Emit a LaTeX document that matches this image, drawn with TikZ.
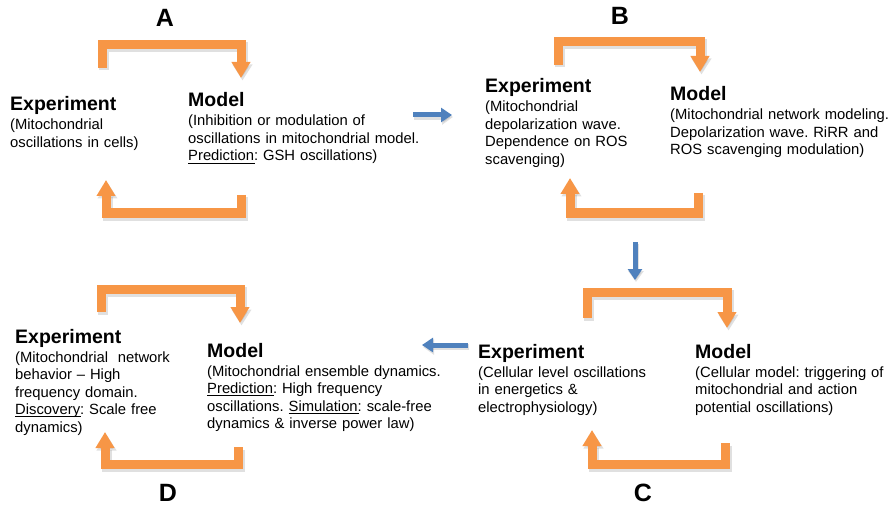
\documentclass[tikz,border=0pt]{standalone}
\usepackage{fontspec}
\setmainfont{Liberation Sans}
\usetikzlibrary{arrows.meta}
\frenchspacing

\definecolor{loopor}{HTML}{F79646}
\definecolor{flowbl}{HTML}{4F81BD}

\newcommand\headfont{\fontsize{19.5}{22}\bfseries}
\newcommand\bodyfont{\fontsize{14.8}{17.5}\selectfont\hyphenpenalty=10000\exhyphenpenalty=10000}
\newcommand\head[1]{{\headfont #1}\\[1.5pt]}
% underline set close to the baseline
\newcommand\ulword[1]{\setbox0\hbox{#1}\leavevmode\rlap{\rule[-2.4pt]{\dimexpr\wd0+1pt\relax}{0.8pt}}\box0}

\tikzset{
  loopline/.style={draw=loopor, line width=9pt, line join=miter, line cap=butt,
    -{Triangle[width=18pt,length=16pt]}},
  loopshade/.style={draw=black!55, opacity=0.22, line width=10pt, line join=miter,
    -{Triangle[width=19pt,length=16pt]},
    transform canvas={shift={(1.5pt,-2.5pt)}}},
  flowline/.style={draw=flowbl, line width=5pt, line cap=butt,
    -{Triangle[width=14pt,length=11pt]}},
  flowshade/.style={draw=black!55, opacity=0.22, line width=5.5pt,
    -{Triangle[width=15pt,length=11pt]},
    transform canvas={shift={(1pt,-2pt)}}},
  txt/.style={anchor=base west, inner sep=0pt, text width=300pt, align=left, font=\bodyfont},
  panel/.style={anchor=base, inner sep=0pt, font=\fontsize{25}{27}\bfseries}
}

% orange cycle arrow with a soft shadow underneath
\newcommand\cyclearrow[1]{\draw[loopshade] #1; \draw[loopline] #1;}
\newcommand\stagearrow[1]{\draw[flowshade] #1; \draw[flowline] #1;}

\begin{document}
\begin{tikzpicture}[x=1pt, y=-1pt]
\useasboundingbox (0,0) rectangle (891,505);

% panel letters
\node[panel] (lA) at (165,27) {A};
\node[panel] (lB) at (620,25) {B};
\node[panel] (lC) at (643,501) {C};
\node[panel] (lD) at (168,501) {D};

% ---- panel A
\node[txt] (aexp) at (10,111) {\head{Experiment}(Mitochondrial\\oscillations in cells)};
\node[txt] (amod) at (188,107) {\head{Model}(Inhibition or modulation of\\oscillations in mitochondrial model.\\\ulword{Prediction}: GSH oscillations)};

% ---- panel B
\node[txt] (bexp) at (485,93) {\head{Experiment}(Mitochondrial\\depolarization wave.\\Dependence on ROS\\scavenging)};
\node[txt] (bmod) at (670,101) {\head{Model}(Mitochondrial network modeling.\\Depolarization wave. RiRR and\\ROS scavenging modulation)};

% ---- panel C
\node[txt] (cexp) at (478,358) {\head{Experiment}(Cellular level oscillations\\in energetics \&\\electrophysiology)};
\node[txt] (cmod) at (695,358) {\head{Model}(Cellular model: triggering of\\mitochondrial and action\\potential oscillations)};

% ---- panel D
\node[txt] (dexp) at (15,343) {\head{Experiment}(Mitochondrial\ \ network\\behavior -- High\\frequency domain.\\\ulword{Discovery}: Scale free\\dynamics)};
\node[txt] (dmod) at (207,357) {\head{Model}(Mitochondrial ensemble dynamics.\\\ulword{Prediction}: High frequency\\oscillations. \ulword{Simulation}: scale-free\\dynamics \& inverse power law)};

% ---- end points of the cycle arrows
\coordinate (aT1) at (102,68);  \coordinate (aT2) at (241,78);
\coordinate (aB1) at (241,195); \coordinate (aB2) at (106,180);
\coordinate (bT1) at (558,65);  \coordinate (bT2) at (700,72);
\coordinate (bB1) at (698,193); \coordinate (bB2) at (570,178);
\coordinate (cT1) at (587,318); \coordinate (cT2) at (727,328);
\coordinate (cB1) at (725,443); \coordinate (cB2) at (592,430);
\coordinate (dT1) at (101,312); \coordinate (dT2) at (240,323);
\coordinate (dB1) at (238,447); \coordinate (dB2) at (105,432);

% experiment -> model (top) and model -> experiment (bottom)
\cyclearrow{(aT1) -- (aT1 |- 0,45) -| (aT2)}
\cyclearrow{(aB1) -- (aB1 |- 0,213) -| (aB2)}
\cyclearrow{(bT1) -- (bT1 |- 0,42) -| (bT2)}
\cyclearrow{(bB1) -- (bB1 |- 0,213) -| (bB2)}
\cyclearrow{(cT1) -- (cT1 |- 0,292) -| (cT2)}
\cyclearrow{(cB1) -- (cB1 |- 0,464) -| (cB2)}
\cyclearrow{(dT1) -- (dT1 |- 0,289) -| (dT2)}
\cyclearrow{(dB1) -- (dB1 |- 0,464) -| (dB2)}

% ---- arrows between stages
\coordinate (ab1) at (413,115); \coordinate (ab2) at (452,115);
\coordinate (bc1) at (635,242); \coordinate (bc2) at (635,280);
\coordinate (cd1) at (468,345); \coordinate (cd2) at (422,345);
\stagearrow{(ab1) -- (ab2)}
\stagearrow{(bc1) -- (bc2)}
\stagearrow{(cd1) -- (cd2)}
\end{tikzpicture}
\end{document}
